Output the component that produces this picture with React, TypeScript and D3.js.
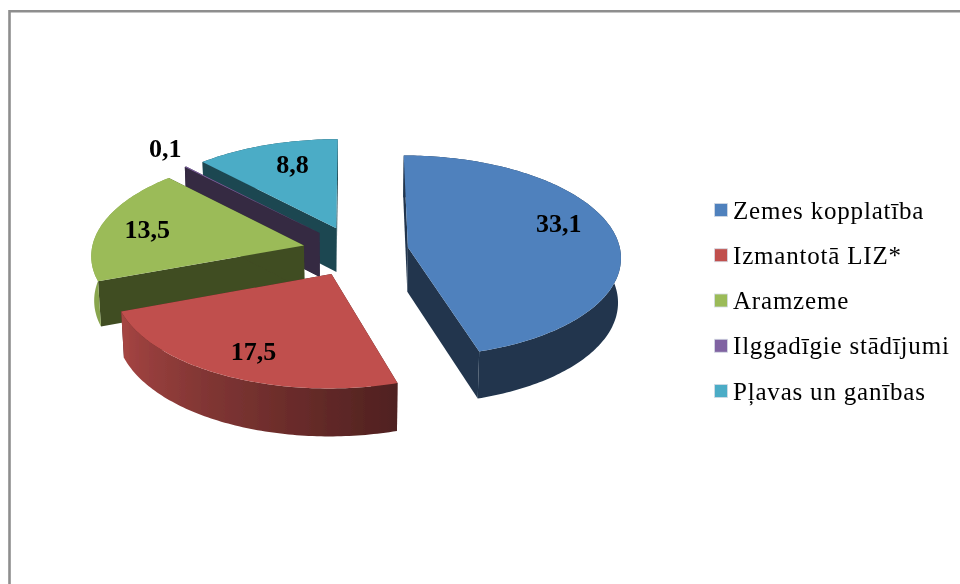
import React from "react";
import * as d3 from "d3";

const categories = ["Zemes kopplatība", "Izmantotā LIZ*", "Aramzeme", "Ilggadīgie stādījumi", "Pļavas un ganības"];
const values = [33.1, 17.5, 13.5, 0.1, 8.8];
const valueLabels = ["33,1", "17,5", "13,5", "0,1", "8,8"];
const colors = ["#4F81BD", "#C0504D", "#9BBB59", "#8064A2", "#4BACC6"];

// far to near, so nearer slices paint over the ones behind them
const paintOrder = [4, 3, 2, 0, 1];

const width = 960;
const height = 584;

// camera for the tilted pie
const cx = 355.5;
const cy = 251;
const tilt = (28.2 * Math.PI) / 180;
const camDist = 10.2;
const scale = 212.5;
const explode = 0.25;
const thickness = 0.24;

// label radius (share of pie radius) and nudge in px, per slice
const labelRadius = [0.7, 0.62, 0.66, 1.25, 0.65];
const labelNudge = [[6, -14], [-14, 17], [-23, -2], [11, -3], [3, -8]];

const sinT = Math.sin(tilt);
const cosT = Math.cos(tilt);

function project(x: number, y: number, z: number): [number, number] {
  const yc = y * sinT + z * cosT;
  const zc = camDist + y * cosT - z * sinT;
  const f = scale * camDist;
  return [cx + (f * x) / zc, cy - (f * yc) / zc];
}

const line = d3.line();

// wall shade depends on the way the rim faces
const shade = d3.scaleLinear().domain([0, 163, 250, 360]).range([0.41, 0.41, 0.88, 0.88]);

function tone(color: string, k: number) {
  const c = d3.rgb(color);
  return d3.rgb(c.r * k, c.g * k, c.b * k).formatHex();
}

const arcs = d3.pie<number>().sort(null).startAngle(0).endAngle(2 * Math.PI)(values);

function Slice({ index }: { index: number }) {
  const { startAngle, endAngle } = arcs[index];
  const mid = (startAngle + endAngle) / 2;
  const ox = explode * Math.sin(mid);
  const oy = explode * Math.cos(mid);
  const pt = (r: number, a: number, z: number) =>
    project(ox + r * Math.sin(a), oy + r * Math.cos(a), z);

  const steps = Math.max(2, Math.ceil(((endAngle - startAngle) * 180) / Math.PI));
  const angles = d3.range(steps + 1).map((i) => startAngle + ((endAngle - startAngle) * i) / steps);
  const color = colors[index];
  const cutColor = tone(color, 0.41);

  const cut = (a: number) =>
    line([pt(0, a, 0), pt(1, a, 0), pt(1, a, -thickness), pt(0, a, -thickness)]) + "Z";

  // rim as one ribbon, shaded left to right along the part facing the viewer
  const ribbon =
    line([...angles.map((a) => pt(1, a, 0)), ...angles.slice().reverse().map((a) => pt(1, a, -thickness))]) + "Z";
  const front = angles.filter((a) => a >= Math.PI / 2 && a <= (3 * Math.PI) / 2);
  const xs = front.map((a) => pt(1, a, 0)[0]);
  const x0 = d3.min(xs) ?? 0;
  const x1 = d3.max(xs) ?? 1;
  const gradId = `rim-${index}`;

  return (
    <g>
      <defs>
        <linearGradient id={gradId} gradientUnits="userSpaceOnUse" x1={x0} x2={x1 > x0 ? x1 : x0 + 1} y1={0} y2={0}>
          {front
            .map((a, i) => ({ a, x: xs[i] }))
            .sort((p, q) => p.x - q.x)
            .map(({ a, x }, i) => (
              <stop
                key={i}
                offset={x1 > x0 ? (x - x0) / (x1 - x0) : 0}
                stopColor={tone(color, shade((a * 180) / Math.PI))}
              />
            ))}
          {front.length === 0 && <stop offset={0} stopColor={cutColor} />}
        </linearGradient>
      </defs>
      <path d={cut(startAngle)} fill={cutColor} />
      <path d={cut(endAngle)} fill={cutColor} />
      <path d={ribbon} fill={`url(#${gradId})`} />
      <path d={line([pt(0, 0, 0), ...angles.map((a) => pt(1, a, 0))]) + "Z"} fill={color} />
    </g>
  );
}

export default function App() {
  const legendY = d3.scalePoint<string>().domain(categories).range([210, 391]);

  return (
    <svg
      width={width}
      height={height}
      viewBox={`0 0 ${width} ${height}`}
      style={{ position: "absolute", left: 0, top: 0, background: "#fff" }}
      fontFamily="'Liberation Serif', serif"
    >
      <defs>
        <filter id="soft" x="0" y="0" width="100%" height="100%" filterUnits="userSpaceOnUse">
          <feGaussianBlur stdDeviation="0.45" />
        </filter>
      </defs>
      <g filter="url(#soft)">
        <path d={`M9.5,${height}V11.3H${width}`} fill="none" stroke="#8E8E8E" strokeWidth={2.6} />

        {paintOrder.map((i) => (
          <Slice key={i} index={i} />
        ))}

        {arcs.map((d, i) => {
          const mid = (d.startAngle + d.endAngle) / 2;
          const r = labelRadius[i];
          const [x, y] = project(
            (explode + r) * Math.sin(mid),
            (explode + r) * Math.cos(mid),
            0
          );
          return (
            <text
              key={i}
              x={x + labelNudge[i][0]}
              y={y + labelNudge[i][1]}
              textAnchor="middle"
              dominantBaseline="central"
              fontSize={26}
              fontWeight="bold"
              fill="#000"
            >
              {valueLabels[i]}
            </text>
          );
        })}

        {categories.map((name, i) => (
          <g key={name} transform={`translate(714,${legendY(name)})`}>
            <rect x={0.5} y={-6.5} width={13} height={13} fill={colors[i]} stroke="#d5dbe5" strokeWidth={0.8} />
            <text x={19} dominantBaseline="central" fontSize={25} letterSpacing={0.8} fill="#000">
              {name}
            </text>
          </g>
        ))}
      </g>
    </svg>
  );
}
